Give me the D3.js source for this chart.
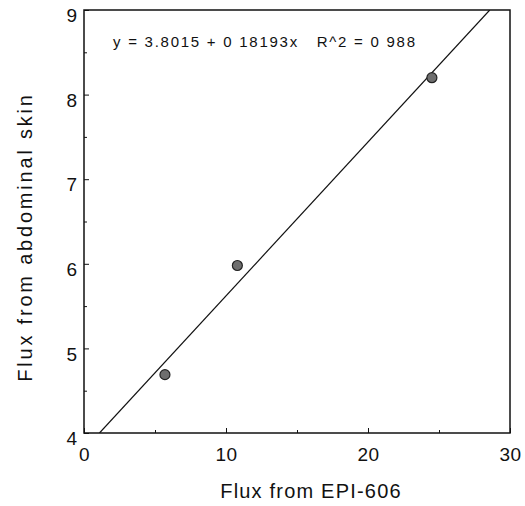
<!DOCTYPE html>
<html><head><meta charset="utf-8">
<script src="https://cdn.jsdelivr.net/npm/d3@7"></script>
<style>body{margin:0;background:#fff}svg{display:block}text{font-family:"Liberation Sans",Arial,sans-serif;fill:#111}</style>
</head><body>
<script>
const xValues = [5.7, 10.8, 24.5];
const yValues = [4.69, 5.98, 8.2];
const xTicks = [0, 10, 20, 30];
const yTicks = [4, 5, 6, 7, 8, 9];
const xMinor = [5, 15, 25];
const yMinor = [4.5, 5.5, 6.5, 7.5, 8.5];
const intercept = 3.8015, slope = 0.18193;
const equationText = "y = 3.8015 + 0 18193x   R^2 = 0 988";
const xTitle = "Flux from EPI-606", yTitle = "Flux from abdominal skin";

const W = 525, H = 506;
const L = 84, R = 510, T = 10, B = 433;
const svg = d3.select("body").append("svg").attr("width", W).attr("height", H);
const x = d3.scaleLinear().domain([0, 30]).range([L, R]);
const y = d3.scaleLinear().domain([4, 9]).range([B, T]);

svg.append("defs").append("clipPath").attr("id","c").append("rect")
  .attr("x", L).attr("y", T).attr("width", R-L).attr("height", B-T);

// frame
svg.append("rect").attr("x", L).attr("y", T).attr("width", R-L).attr("height", B-T)
  .attr("fill","none").attr("stroke","#111").attr("stroke-width",1.5);

// axes (ticks inward)
const xAxis = d3.axisBottom(x).tickValues(xTicks).tickSize(-5).tickPadding(15).tickFormat(d3.format("d"));
const gx = svg.append("g").attr("transform",`translate(0,${B})`).call(xAxis);
gx.select(".domain").remove();
gx.selectAll("text").style("font-size","19px").style("letter-spacing","0.5px").attr("fill","#111");
gx.selectAll("line").attr("stroke","#111");
svg.append("g").attr("transform",`translate(0,${B})`)
  .call(d3.axisBottom(x).tickValues(xMinor).tickSize(-3).tickFormat(""))
  .call(g=>g.select(".domain").remove()).selectAll("line").attr("stroke","#111");

const yAxis = d3.axisLeft(y).tickValues(yTicks).tickSize(-5).tickPadding(7).tickFormat(d3.format("d"));
const gy = svg.append("g").attr("transform",`translate(${L},0)`).call(yAxis);
gy.select(".domain").remove();
gy.selectAll("text").style("font-size","19px").attr("dy","0.62em").attr("fill","#111");
gy.selectAll("line").attr("stroke","#111");
svg.append("g").attr("transform",`translate(${L},0)`)
  .call(d3.axisLeft(y).tickValues(yMinor).tickSize(-3).tickFormat(""))
  .call(g=>g.select(".domain").remove()).selectAll("line").attr("stroke","#111");

// regression line
const x0 = (4 - intercept) / slope, x1 = (9 - intercept) / slope;
svg.append("line").attr("clip-path","url(#c)")
  .attr("x1", x(x0)).attr("y1", y(intercept + slope*x0))
  .attr("x2", x(x1)).attr("y2", y(intercept + slope*x1))
  .attr("stroke","#111").attr("stroke-width",1.2);

// points
svg.selectAll("circle.pt").data(xValues.map((v,i)=>[v,yValues[i]])).enter().append("circle")
  .attr("class","pt").attr("cx",d=>x(d[0])).attr("cy",d=>y(d[1])).attr("r",5)
  .attr("fill","#6e6e6e").attr("stroke","#222").attr("stroke-width",1.2);

// equation
svg.append("text").attr("x",113).attr("y",47).style("font-size","15px")
  .attr("textLength",302).attr("lengthAdjust","spacing")
  .attr("xml:space","preserve").style("white-space","pre").text(equationText);

// titles
svg.append("text").attr("x", 311).attr("y", 498).attr("text-anchor","middle")
  .style("font-size","20px").style("letter-spacing","1.2px").text(xTitle);
svg.append("text").attr("transform","translate(32,237) rotate(-90)").attr("text-anchor","middle")
  .style("font-size","20px").style("letter-spacing","2.8px").text(yTitle);
</script>
</body></html>
